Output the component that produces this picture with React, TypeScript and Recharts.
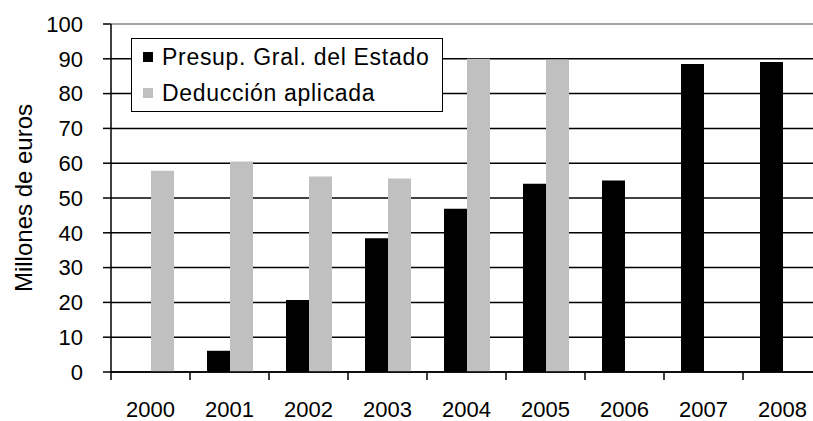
import React from 'react';
import { BarChart, Bar, XAxis, YAxis, CartesianGrid, ReferenceLine, Label } from 'recharts';

const years = ['2000', '2001', '2002', '2003', '2004', '2005', '2006', '2007', '2008'];
const presupuesto = [null, 6.1, 20.7, 38.4, 46.9, 54.1, 55.0, 88.5, 89.1];
const deduccion = [57.8, 60.5, 56.2, 55.6, 90.0, 89.7, null, null, null];
const yTicks = [0, 10, 20, 30, 40, 50, 60, 70, 80, 90, 100];

const SERIES = [
  { key: 'presupuesto', name: 'Presup. Gral. del Estado', color: '#000000' },
  { key: 'deduccion', name: 'Deducción aplicada', color: '#c0c0c0' },
];

const FONT = '"Liberation Sans", Arial, sans-serif';

const data = years.map((year, i) => ({
  year,
  presupuesto: presupuesto[i],
  deduccion: deduccion[i],
}));

// category ticks sit between the bars, so draw them at the band edges
const YearTick = (props: any) => {
  const { x, y, payload, index } = props;
  const half = payload && payload.offset ? payload.offset : 39.5;
  const axisY = y - 29;
  return (
    <g>
      <line x1={x - half} x2={x - half} y1={axisY} y2={axisY + 8} stroke="#000" strokeWidth={1.5} />
      {index === years.length - 1 && (
        <line x1={x + half} x2={x + half} y1={axisY} y2={axisY + 8} stroke="#000" strokeWidth={1.5} />
      )}
      <text x={x} y={y} dy="0.72em" textAnchor="middle" fontSize={22} fontFamily={FONT} fill="#000">
        {payload.value}
      </text>
    </g>
  );
};

const YLabel = (props: any) => {
  const vb = props.viewBox || { x: 0, y: 24, height: 348 };
  const cx = vb.x + 23;
  const cy = vb.y + vb.height / 2;
  return (
    <text
      x={cx}
      y={cy}
      transform={`rotate(-90 ${cx} ${cy})`}
      textAnchor="middle"
      dominantBaseline="central"
      fontSize={24}
      fontFamily={FONT}
      fill="#000"
    >
      Millones de euros
    </text>
  );
};

const LegendBox = () => (
  <div
    style={{
      position: 'absolute',
      left: 131,
      top: 38,
      boxSizing: 'border-box',
      width: 312,
      border: '1.5px solid #000',
      background: '#fff',
      padding: '0 0 0 11px',
      fontFamily: FONT,
      fontSize: 23,
      letterSpacing: 0.7,
      color: '#000',
    }}
  >
    {SERIES.map((s) => (
      <div key={s.key} style={{ display: 'flex', alignItems: 'center', height: 36 }}>
        <span style={{ width: 10, height: 10, background: s.color, marginRight: 9, flex: 'none' }} />
        <span style={{ whiteSpace: 'nowrap' }}>{s.name}</span>
      </div>
    ))}
  </div>
);

export default function App() {
  return (
    <div
      style={{
        position: 'absolute',
        left: 0,
        top: 0,
        width: 813,
        height: 421,
        overflow: 'hidden',
        background: '#fff',
      }}
    >
      <BarChart
        width={826}
        height={421}
        data={data}
        margin={{ top: 24, right: 4, bottom: 0, left: 0 }}
        barGap={0}
        barSize={23}
      >
        <CartesianGrid vertical={false} stroke="#000" strokeWidth={1.5} />
        <ReferenceLine y={100} stroke="#a6a6a6" strokeWidth={2} />
        <XAxis
          dataKey="year"
          height={49}
          tickLine={false}
          tickSize={8}
          tickMargin={21}
          interval={0}
          axisLine={{ stroke: '#000', strokeWidth: 1.5 }}
          tick={<YearTick />}
        />
        <YAxis
          width={111}
          domain={[0, 100]}
          ticks={yTicks}
          interval={0}
          tickSize={8}
          tickMargin={20}
          axisLine={{ stroke: '#000', strokeWidth: 1.5 }}
          tickLine={{ stroke: '#000', strokeWidth: 1.5 }}
          tick={{ fontSize: 22, fontFamily: FONT, fill: '#000' }}
        >
          <Label content={<YLabel />} />
        </YAxis>
        {SERIES.map((s) => (
          <Bar key={s.key} dataKey={s.key} name={s.name} fill={s.color} isAnimationActive={false} />
        ))}
      </BarChart>
      <LegendBox />
    </div>
  );
}
